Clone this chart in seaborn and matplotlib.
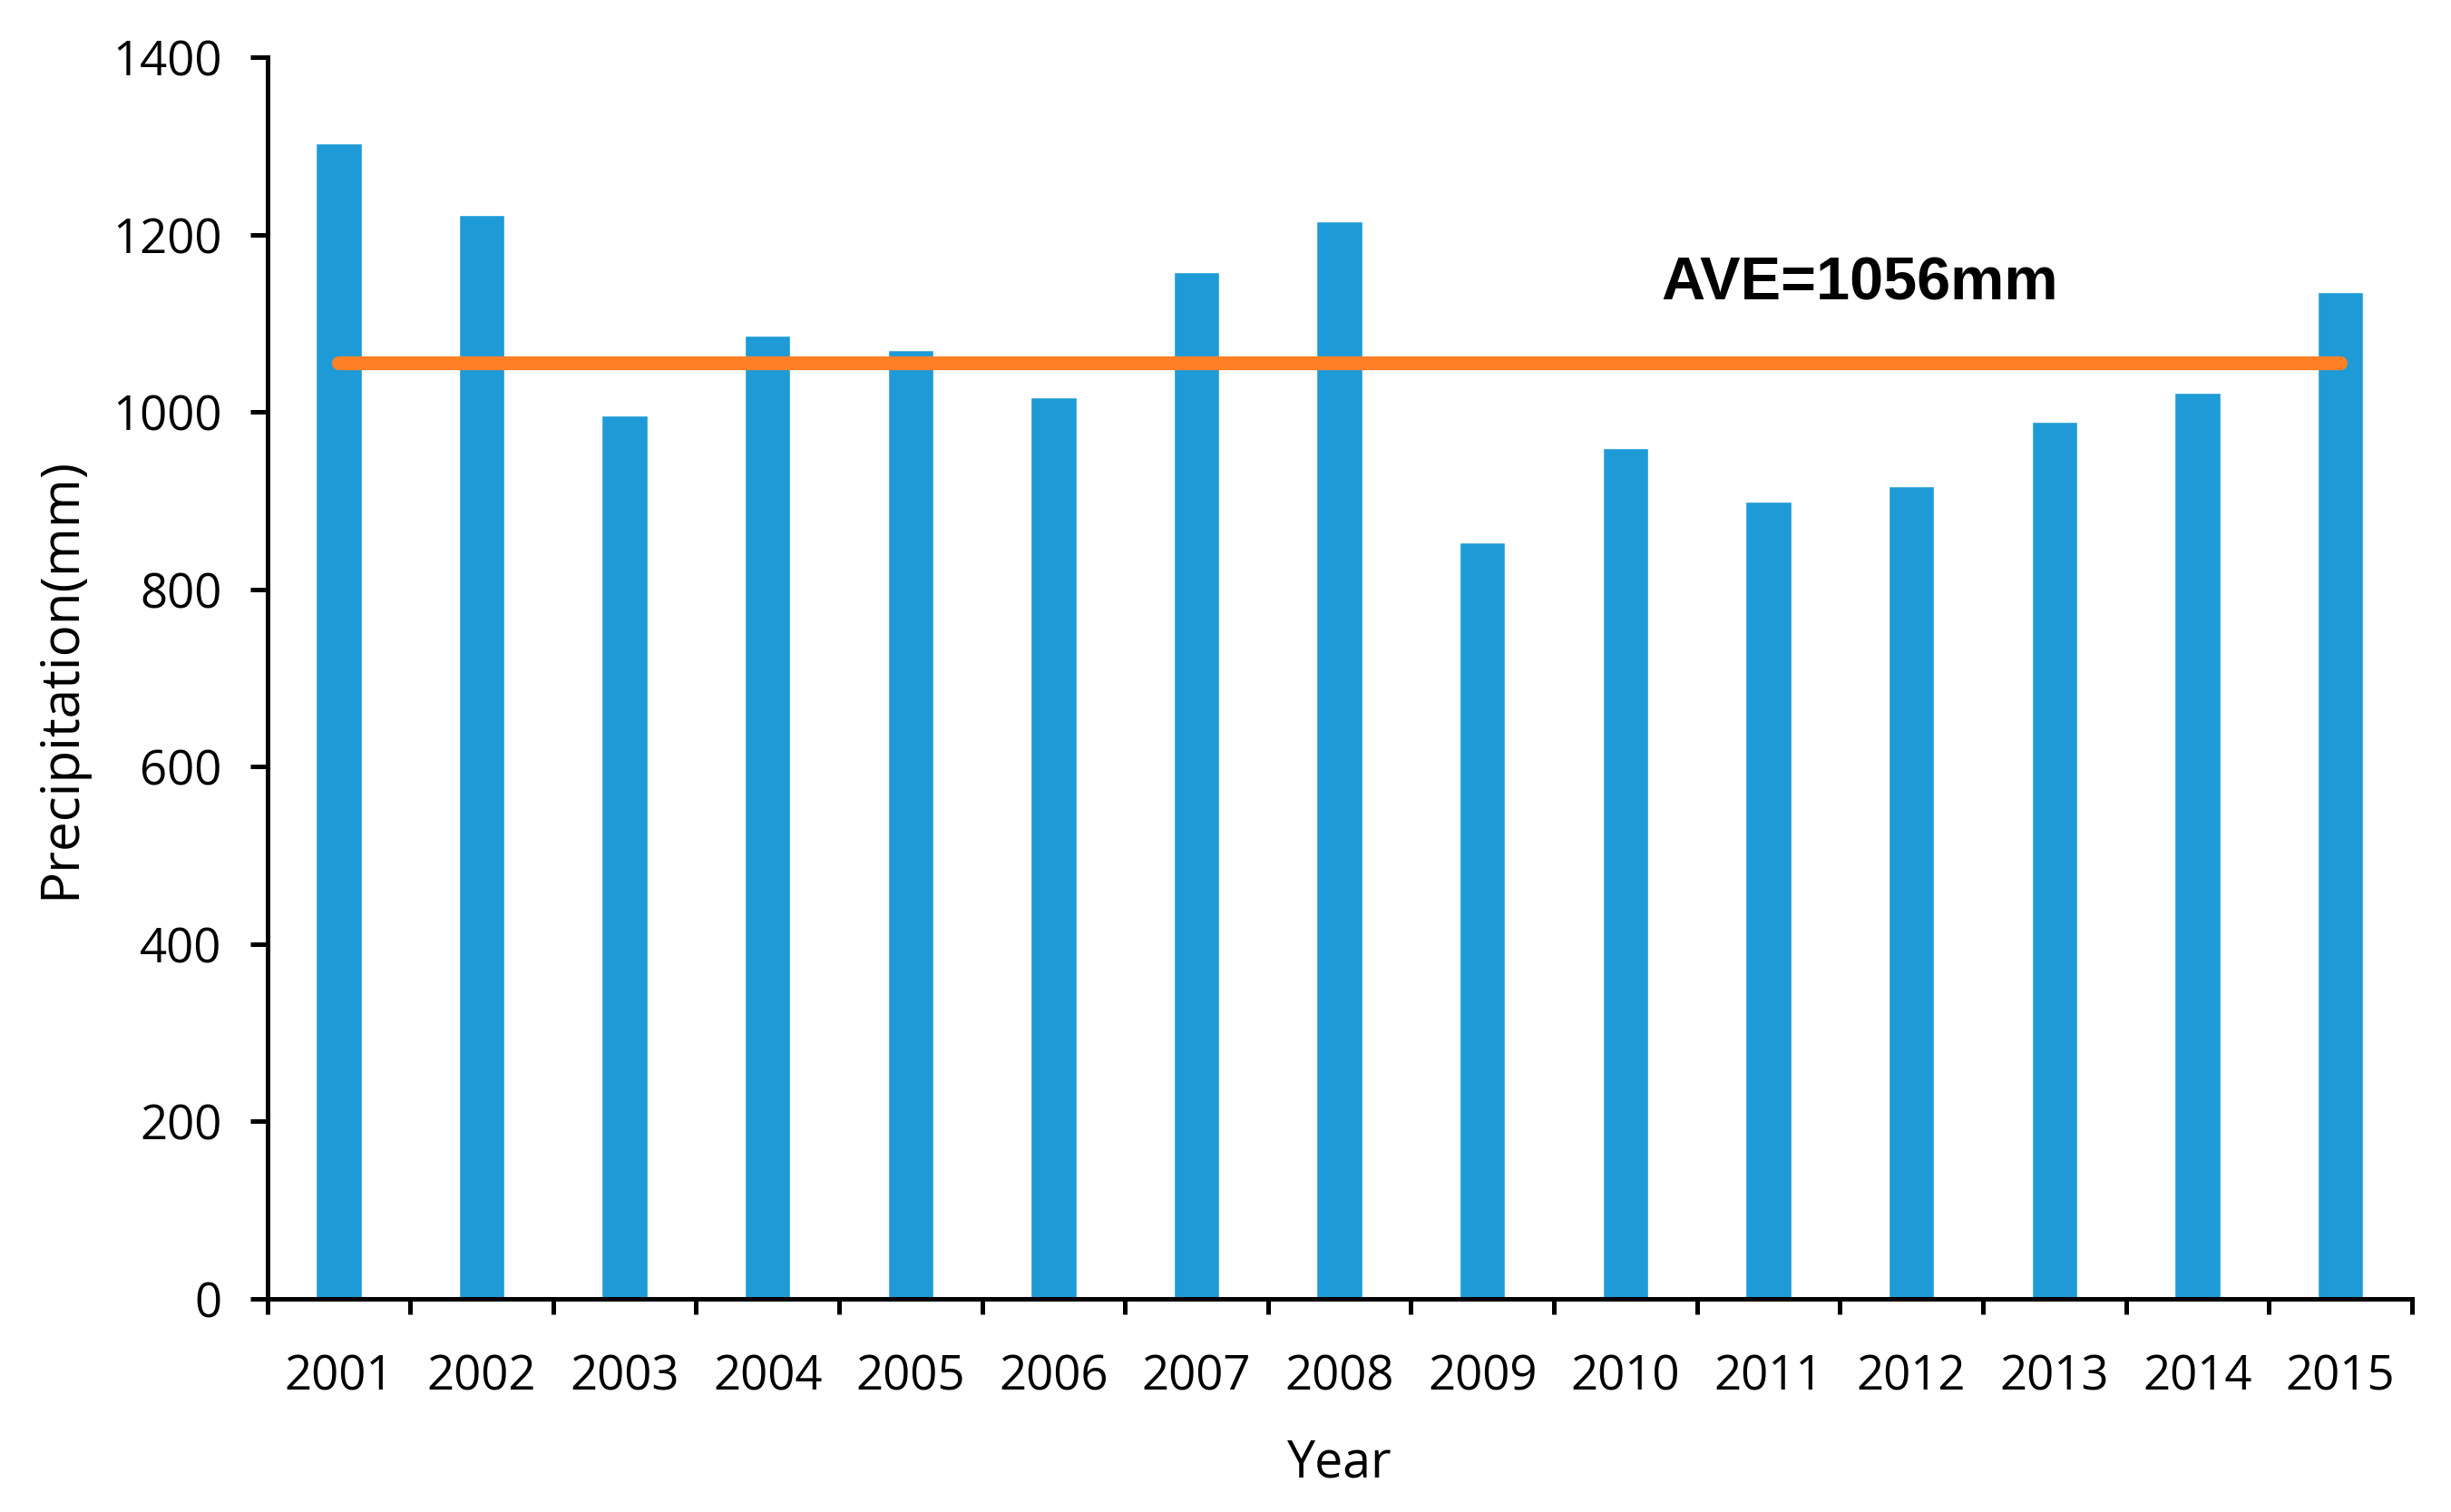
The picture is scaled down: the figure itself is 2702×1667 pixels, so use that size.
import matplotlib
matplotlib.use("Agg")
import matplotlib.pyplot as plt
import numpy as np
import pandas as pd
import seaborn as sns

# annual precipitation
years = ["2001", "2002", "2003", "2004", "2005", "2006", "2007", "2008",
         "2009", "2010", "2011", "2012", "2013", "2014", "2015"]
precip = [1303, 1222, 996, 1086, 1070, 1017, 1158, 1215,
          853, 959, 899, 916, 989, 1022, 1135]
ave_value = 1056
ave_label = "AVE=1056mm"
y_ticks = [0, 200, 400, 600, 800, 1000, 1200, 1400]

df = pd.DataFrame({"Year": years, "Precipitation": precip})

sns.set_theme(style="ticks")
plt.rcParams['font.family'] = ['Open Sans', 'DejaVu Sans']
plt.rcParams['text.color'] = 'black'
plt.rcParams['axes.labelcolor'] = 'black'
plt.rcParams['xtick.color'] = 'black'
plt.rcParams['ytick.color'] = 'black'

fig = plt.figure(figsize=(27.02, 16.67), dpi=100)
ax = fig.add_axes([0.109, 0.141, 0.875, 0.821])

sns.barplot(data=df, x="Year", y="Precipitation", color="#1E9BD7",
            saturation=1, width=0.32, ax=ax)

# average line from the first bar centre to the last bar centre
ax.plot([0, len(years) - 1], [ave_value, ave_value], color="#FF7F27",
        linewidth=11, solid_capstyle="round", zorder=3)
ax.text(9.25, ave_value + 88, ave_label, fontsize=48, fontweight="bold",
        color="black",
        family=['Liberation Sans Narrow', 'Liberation Sans', 'DejaVu Sans'],
        ha="left", va="center")

ax.set_xlim(-0.5, len(years) - 0.5)
ax.set_ylim(0, 1400)
ax.set_yticks(y_ticks)

# category ticks sit between the bars
ax.set_xticks(np.arange(-0.5, len(years) + 0.5, 1), minor=False)
ax.set_xticklabels([])
ax.set_xticks(np.arange(len(years)), minor=True)
ax.set_xticklabels(years, minor=True)
ax.tick_params(axis="x", which="major", length=12, width=3.6, direction="out")
ax.tick_params(axis="x", which="minor", length=0, pad=43, labelsize=38)
ax.tick_params(axis="y", length=14, width=3.6, pad=22, labelsize=38)

for side in ["left", "bottom"]:
    ax.spines[side].set_linewidth(3.6)
    ax.spines[side].set_color("black")
sns.despine(ax=ax)

ax.set_xlabel("Year", fontsize=40, labelpad=29)
ax.set_ylabel("Precipitation(mm)", fontsize=42, labelpad=20)

fig.savefig("out.png", dpi=100, facecolor="white")
